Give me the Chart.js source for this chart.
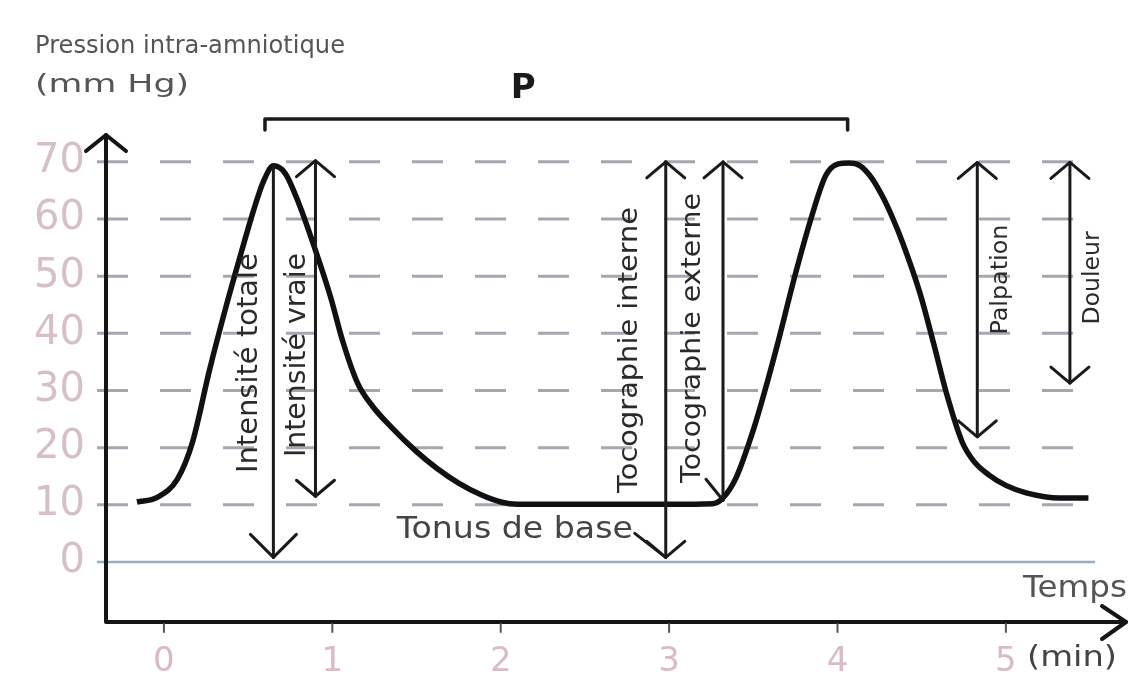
<!DOCTYPE html>
<html lang="fr">
<head>
<meta charset="utf-8">
<script src="https://cdn.jsdelivr.net/npm/chart.js@4.4.1/dist/chart.umd.min.js"></script>
<style>
  html, body { margin: 0; padding: 0; background: #fff; }
  #wrap { width: 1133px; height: 696px; }
</style>
</head>
<body>
<div id="wrap"><canvas id="chart" width="1133" height="696"></canvas></div>
<script>
// courbe de pression
const timeMin = [-0.16, -0.04, 0.08, 0.17, 0.27, 0.37, 0.45, 0.53, 0.59, 0.65, 0.72, 0.80, 0.90, 0.99,
  1.06, 1.15, 1.24, 1.35, 1.50, 1.62, 1.75, 1.88, 2.00, 2.10, 2.47, 3.00, 3.26, 3.32, 3.40, 3.50,
  3.57, 3.64, 3.75, 3.85, 3.93, 4.00, 4.07, 4.13, 4.20, 4.27, 4.33, 4.39, 4.49, 4.57, 4.65, 4.74,
  4.81, 4.90, 5.00, 5.12, 5.32, 5.49];
const pressure = [10.5, 11.3, 14.5, 21.0, 33.5, 44.8, 53.2, 61.3, 66.5, 69.3, 68.0, 62.8, 54.5, 46.3,
  38.8, 31.3, 27.2, 23.6, 19.3, 16.4, 13.8, 11.8, 10.5, 10.1, 10.1, 10.1, 10.2, 11.2, 14.9, 23.1,
  30.1, 37.7, 50.4, 60.8, 67.6, 69.6, 69.8, 69.4, 67.3, 63.8, 60.0, 55.6, 47.0, 38.3, 29.2, 21.0,
  17.6, 15.2, 13.4, 12.1, 11.2, 11.2];

const xTicks = [0, 1, 2, 3, 4, 5];
const yTicks = [0, 10, 20, 30, 40, 50, 60, 70];

// fleches verticales : abscisse, haut, bas (mm Hg)
const arrowTime = [0.65, 0.90, 2.98, 3.32, 4.83, 5.38];
const arrowTop = [69.5, 70.2, 70, 70, 69.9, 69.9];
const arrowBottom = [0.8, 11.5, 0.8, 10.8, 21.9, 31.3];
const arrowLabels = ['Intensité totale', 'Intensité vraie', 'Tocographie interne',
  'Tocographie externe', 'Palpation', 'Douleur'];

// periode P (de pic a pic)
const periodStart = 0.6;
const periodEnd = 4.06;

const FONT = "'DejaVu Sans', 'Liberation Sans', sans-serif";

// mise en page des annotations (centre du texte en unites du graphe, taille, longueur)
const arrowStyle = [
  { heads: 'down', lx: 0.511, ly: 34.8, size: 28, len: 220 },
  { heads: 'both', lx: 0.796, ly: 36.2, size: 28, len: 204 },
  { heads: 'both', lx: 2.767, ly: 37.1, size: 26, len: 286 },
  { heads: 'upLeft', lx: 3.141, ly: 39.2, size: 26, len: 290 },
  { heads: 'both', lx: 4.970, ly: 49.4, size: 23, len: 110 },
  { heads: 'both', lx: 5.517, ly: 49.7, size: 23, len: 93 }
];

function fitText(c, text, x, y, size, len, angle, weight, color) {
  c.save();
  c.font = (weight || 'normal') + ' ' + size + 'px ' + FONT;
  c.fillStyle = color;
  c.textAlign = 'center';
  c.textBaseline = 'middle';
  const w = c.measureText(text).width;
  c.translate(x, y);
  c.rotate(angle || 0);
  c.scale(len ? len / w : 1, 1);
  c.fillText(text, 0, 0);
  c.restore();
}

function head(c, x, y, dir, dx, dy) {
  c.beginPath();
  c.moveTo(x - dx, y - dir * dy);
  c.lineTo(x, y);
  c.lineTo(x + dx, y - dir * dy);
  c.stroke();
}

const drawing = {
  id: 'drawing',
  beforeDatasetsDraw(chart) {
    const c = chart.ctx;
    const ys = chart.scales.y;
    const a = chart.chartArea;
    c.save();
    yTicks.forEach(v => {
      const y = ys.getPixelForValue(v);
      c.beginPath();
      if (v === 0) {
        c.strokeStyle = 'rgba(150,168,186,0.95)';
        c.lineWidth = 2.5;
        c.setLineDash([]);
      } else {
        c.strokeStyle = 'rgba(140,146,156,0.8)';
        c.lineWidth = 3;
        c.setLineDash([31, 32]);
      }
      c.moveTo(a.left - 9, y);
      c.lineTo(a.right, y);
      c.stroke();
    });
    c.restore();
  },
  afterDatasetsDraw(chart) {
    const c = chart.ctx;
    const xs = chart.scales.x, ys = chart.scales.y;
    const a = chart.chartArea;
    c.save();
    c.lineCap = 'round';
    c.lineJoin = 'round';

    // axes
    c.strokeStyle = '#151515';
    c.lineWidth = 4;
    c.beginPath();
    c.moveTo(a.left, a.top);
    c.lineTo(a.left, a.bottom);
    c.lineTo(1126, a.bottom);
    c.stroke();
    head(c, a.left, a.top, -1, 20, 16);
    c.beginPath();
    c.moveTo(1102, a.bottom - 16);
    c.lineTo(1126, a.bottom);
    c.lineTo(1102, a.bottom + 17);
    c.stroke();

    c.strokeStyle = '#555';
    c.lineWidth = 2;
    xTicks.forEach(v => {
      const x = xs.getPixelForValue(v);
      c.beginPath();
      c.moveTo(x, a.bottom + 2);
      c.lineTo(x, a.bottom + 10);
      c.stroke();
    });

    // fleches
    c.strokeStyle = '#1a1a1a';
    c.lineWidth = 3;
    arrowTime.forEach((t, i) => {
      const x = xs.getPixelForValue(t);
      const y1 = ys.getPixelForValue(arrowTop[i]);
      const y2 = ys.getPixelForValue(arrowBottom[i]);
      const st = arrowStyle[i];
      c.beginPath();
      c.moveTo(x, y1);
      c.lineTo(x, y2);
      c.stroke();
      if (st.heads === 'down') {
        head(c, x, y2, 1, 23, 23);
      } else if (st.heads === 'both') {
        head(c, x, y1, -1, 19, 16);
        head(c, x, y2, 1, 19, 16);
      } else if (st.heads === 'upLeft') {
        head(c, x, y1, -1, 19, 16);
        c.beginPath();
        c.moveTo(x - 17, y2 - 21);
        c.lineTo(x, y2);
        c.stroke();
      }
      fitText(c, arrowLabels[i], xs.getPixelForValue(st.lx), ys.getPixelForValue(st.ly),
        st.size, st.len, -Math.PI / 2, 'normal', '#2a2a2a');
    });

    // tonus de base
    const tx = xs.getPixelForValue(arrowTime[2]);
    const ty = ys.getPixelForValue(arrowBottom[2]);
    c.beginPath();
    c.moveTo(tx - 31, ty - 24);
    c.lineTo(tx, ty);
    c.stroke();
    fitText(c, 'Tonus de base', xs.getPixelForValue(2.084), ys.getPixelForValue(5.6),
      31, 236, 0, 'normal', '#444');

    // periode P
    const px1 = xs.getPixelForValue(periodStart);
    const px2 = xs.getPixelForValue(periodEnd);
    const py = 119;
    c.lineWidth = 3.5;
    c.beginPath();
    c.moveTo(px1, py + 11);
    c.lineTo(px1, py);
    c.lineTo(px2, py);
    c.lineTo(px2, py + 11);
    c.stroke();
    fitText(c, 'P', (px1 + px2) / 2 - 33, 89, 34, 0, 0, 'bold', '#1a1a1a');

    // titres d'axes
    fitText(c, 'Pression intra-amniotique', 35 + 155, 47, 24, 310, 0, 'normal', '#555');
    fitText(c, '(mm Hg)', 35 + 77, 86, 24, 154, 0, 'normal', '#555');
    fitText(c, 'Temps', 1075, 589, 30, 104, 0, 'normal', '#555');
    fitText(c, '(min)', 1072, 658, 29, 90, 0, 'normal', '#444');
    c.restore();
  }
};

new Chart(document.getElementById('chart'), {
  type: 'line',
  data: {
    datasets: [{
      data: timeMin.map((t, i) => ({ x: t, y: pressure[i] })),
      borderColor: '#111',
      borderWidth: 5.5,
      pointRadius: 0,
      cubicInterpolationMode: 'monotone',
      fill: false
    }]
  },
  options: {
    responsive: false,
    animation: false,
    devicePixelRatio: 1,
    layout: { padding: { top: 135, right: 38, bottom: 0, left: 0 } },
    plugins: { legend: { display: false }, tooltip: { enabled: false } },
    scales: {
      x: {
        type: 'linear',
        min: -0.344,
        max: 5.529,
        afterBuildTicks: s => { s.ticks = xTicks.map(v => ({ value: v })); },
        afterFit: s => { s.height = 74; },
        grid: { display: false, drawTicks: false },
        border: { display: false },
        ticks: {
          color: '#d9bcc3',
          font: { family: FONT, size: 34 },
          padding: 20,
          autoSkip: false,
          maxRotation: 0
        }
      },
      y: {
        type: 'linear',
        min: -10.5,
        max: 74.7,
        afterBuildTicks: s => { s.ticks = yTicks.map(v => ({ value: v })); },
        afterFit: s => { s.width = 106; },
        grid: { display: false, drawTicks: false },
        border: { display: false },
        ticks: {
          color: '#d6c0c6',
          font: { family: FONT, size: 40 },
          padding: 21,
          autoSkip: false
        }
      }
    }
  },
  plugins: [drawing]
});
</script>
</body>
</html>
